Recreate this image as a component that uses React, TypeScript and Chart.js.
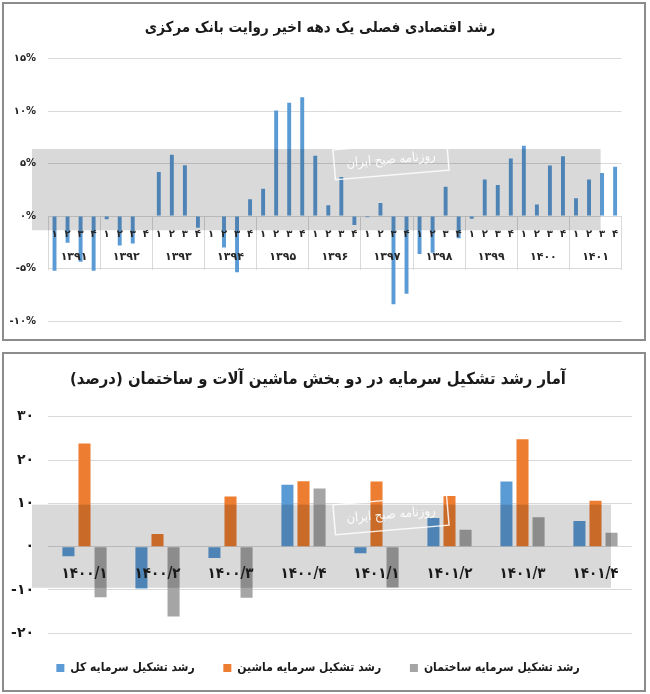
import { useEffect, useRef } from 'react';
import { Chart, registerables } from 'chart.js';

Chart.register(...registerables);

const FONT = "'DejaVu Sans', sans-serif";
const FONT_C = "'DejaVu Sans Condensed', 'DejaVu Sans', sans-serif";
const FA_DIGITS = '۰۱۲۳۴۵۶۷۸۹';
const fa = (v: string | number) => String(v).replace(/\d/g, (d) => FA_DIGITS[Number(d)]);

// ---------- top chart data ----------
const title1 = 'رشد اقتصادی فصلی یک دهه اخیر روایت بانک مرکزی';
const years = ['1391', '1392', '1393', '1394', '1395', '1396', '1397', '1398', '1399', '1400', '1401'].map(fa);
const quarters = ['1', '2', '3', '4'].map(fa);
const quarterLabels = years.flatMap(() => quarters);
const gdpGrowth = [
  -5.2, -2.55, -4.36, -5.2, // 1391
  -0.3, -2.8, -2.6, 0, // 1392
  4.2, 5.86, 4.86, -1.1, // 1393
  0, -3.0, -5.36, 1.6, // 1394
  2.6, 10.06, 10.8, 11.34, // 1395
  5.76, 1.03, 3.74, -0.85, // 1396
  -0.1, 1.25, -8.4, -7.4, // 1397
  -3.6, -3.5, 2.8, -2.1, // 1398
  -0.25, 3.5, 2.96, 5.5, // 1399
  6.7, 1.1, 4.83, 5.7, // 1400
  1.7, 3.5, 4.1, 4.7, // 1401
];

// ---------- bottom chart data ----------
const title2 = 'آمار رشد تشکیل سرمایه در دو بخش ماشین آلات و ساختمان (درصد)';
const capCategories = ['1400/1', '1400/2', '1400/3', '1400/4', '1401/1', '1401/2', '1401/3', '1401/4'].map(fa);
const seriesNames = ['رشد تشکیل سرمایه کل', 'رشد تشکیل سرمایه ماشین', 'رشد تشکیل سرمایه ساختمان'];
const capTotal = [-2.2, -9.65, -2.6, 14.3, -1.5, 6.6, 15.06, 5.9];
const capMachinery = [23.8, 2.9, 11.6, 15.1, 15.06, 11.7, 24.8, 10.6];
const capBuilding = [-11.7, -16.1, -11.8, 13.4, -9.4, 3.9, 6.8, 3.2];
const seriesColors = ['#5b9bd5', '#ed7d31', '#a5a5a5'];

const stampText = 'روزنامه صبح ایران';

const makeWatermark = (topVal: number, botVal: number, cx: number, cy: number) => ({
  id: 'wm',
  afterDatasetsDraw(chart: any) {
    const { ctx, chartArea } = chart;
    const ys = chart.scales.y;
    const y1 = ys.getPixelForValue(topVal);
    const y2 = ys.getPixelForValue(botVal);
    ctx.save();
    ctx.fillStyle = 'rgba(0,0,0,0.15)';
    const left = chartArea.left - 16;
    const right = chartArea.right - 21;
    ctx.fillRect(left, y1, right - left, y2 - y1);
    ctx.translate(cx, cy);
    ctx.rotate(-0.085);
    ctx.strokeStyle = 'rgba(255,255,255,0.85)';
    ctx.lineWidth = 1.5;
    ctx.strokeRect(-57, -15, 114, 30);
    ctx.fillStyle = 'rgba(255,255,255,0.9)';
    ctx.font = `13px ${FONT_C}`;
    ctx.textAlign = 'center';
    ctx.textBaseline = 'middle';
    ctx.fillText(stampText, 0, 0);
    ctx.restore();
  },
});

export default function App() {
  const topRef = useRef<HTMLCanvasElement>(null);
  const botRef = useRef<HTMLCanvasElement>(null);

  useEffect(() => {
    Chart.defaults.font.family = FONT;
    const c1 = new Chart(topRef.current!, {
      type: 'bar',
      data: {
        labels: quarterLabels,
        datasets: [
          {
            data: gdpGrowth,
            backgroundColor: '#5b9bd5',
            barPercentage: 0.5,
            categoryPercentage: 0.6,
          },
        ],
      },
      options: {
        responsive: false,
        animation: false,
        layout: { padding: { left: 0, right: 8, top: 0, bottom: 13.3 } },
        plugins: {
          legend: { display: false },
          tooltip: { enabled: false },
          title: {
            display: true,
            text: '\u200F' + title1 + '\u200F',
            color: '#1a1a1a',
            font: { family: FONT_C, size: 15, weight: 'bold' },
            padding: { top: 15, bottom: 21.8 },
          },
        },
        scales: {
          x: {
            type: 'category',
            position: { y: 0 } as any,
            offset: true,
            grid: { display: false, drawTicks: false },
            border: { display: false },
            ticks: {
              autoSkip: false,
              maxRotation: 0,
              padding: 12,
              color: '#262626',
              font: { family: FONT, size: 10, weight: 'bold' },
              z: 1,
            },
          },
          x2: {
            type: 'category',
            labels: years,
            position: { y: 0 } as any,
            offset: true,
            grid: { offset: true, drawOnChartArea: false, drawTicks: true, tickLength: 53, color: '#d9d9d9' },
            border: { display: true, color: '#d9d9d9' },
            ticks: { display: false },
          },
          x3: {
            type: 'category',
            labels: years,
            position: { y: 0 } as any,
            offset: true,
            grid: { display: false, drawTicks: false },
            border: { display: false },
            ticks: {
              autoSkip: false,
              maxRotation: 0,
              padding: 34,
              color: '#262626',
              font: { family: FONT, size: 11, weight: 'bold' },
              z: 1,
            },
          },
          y: {
            min: -10,
            max: 15,
            ticks: {
              stepSize: 5,
              padding: 12,
              color: '#262626',
              font: { family: FONT, size: 10, weight: 'bold' },
              callback: (v: any) => fa(v) + '%',
            },
            grid: { color: '#d9d9d9', drawTicks: false },
            border: { display: false },
            afterFit: (s: any) => {
              s.width = 44;
            },
          },
        },
      },
      plugins: [makeWatermark(6.4, -1.35, 387, 156)],
    });

    const c2 = new Chart(botRef.current!, {
      type: 'bar',
      data: {
        labels: capCategories,
        datasets: [capTotal, capMachinery, capBuilding].map((d, i) => ({
          label: seriesNames[i],
          data: d,
          backgroundColor: seriesColors[i],
          barPercentage: 0.75,
          categoryPercentage: 0.66,
        })),
      },
      options: {
        responsive: false,
        animation: false,
        layout: { padding: { left: 0, right: 12, top: 0, bottom: 6 } },
        plugins: {
          tooltip: { enabled: false },
          title: {
            display: true,
            text: '\u200F' + title2 + '\u200F',
            color: '#1a1a1a',
            font: { family: FONT_C, size: 16.5, weight: 'bold' },
            padding: { top: 16.1, bottom: 26.8 },
          },
          legend: {
            position: 'bottom',
            labels: {
              boxWidth: 8,
              boxHeight: 8,
              padding: 28.7,
              color: '#1a1a1a',
              font: { family: FONT_C, size: 12, weight: 'bold' },
            },
          },
        },
        scales: {
          x: {
            position: { y: 0 } as any,
            offset: true,
            grid: { display: false, drawTicks: false },
            border: { display: false },
            ticks: {
              autoSkip: false,
              maxRotation: 0,
              padding: 18,
              color: '#1a1a1a',
              font: { family: FONT_C, size: 15, weight: 'bold' },
              z: 1,
            },
          },
          y: {
            min: -20,
            max: 30,
            ticks: {
              stepSize: 10,
              padding: 14,
              color: '#1a1a1a',
              font: { family: FONT, size: 14, weight: 'bold' },
              callback: (v: any) => fa(v),
            },
            grid: { color: '#d9d9d9', drawTicks: false },
            border: { display: false },
            afterFit: (s: any) => {
              s.width = 44;
            },
          },
        },
      },
      plugins: [makeWatermark(9.7, -9.5, 387, 161)],
    });

    return () => {
      c1.destroy();
      c2.destroy();
    };
  }, []);

  const panel = (top: number, height: number): React.CSSProperties => ({
    position: 'absolute',
    left: 2,
    top,
    width: 644,
    height,
    border: '2px solid #8c8c8c',
    boxSizing: 'border-box',
    background: '#fff',
  });

  return (
    <div style={{ position: 'absolute', left: 0, top: 0, width: 650, height: 694, background: '#fff' }}>
      <div style={panel(2, 339)}>
        <canvas ref={topRef} width={640} height={335} style={{ display: 'block', width: 640, height: 335 }} />
      </div>
      <div style={panel(352, 340)}>
        <canvas ref={botRef} width={640} height={336} style={{ display: 'block', width: 640, height: 336 }} />
      </div>
    </div>
  );
}
